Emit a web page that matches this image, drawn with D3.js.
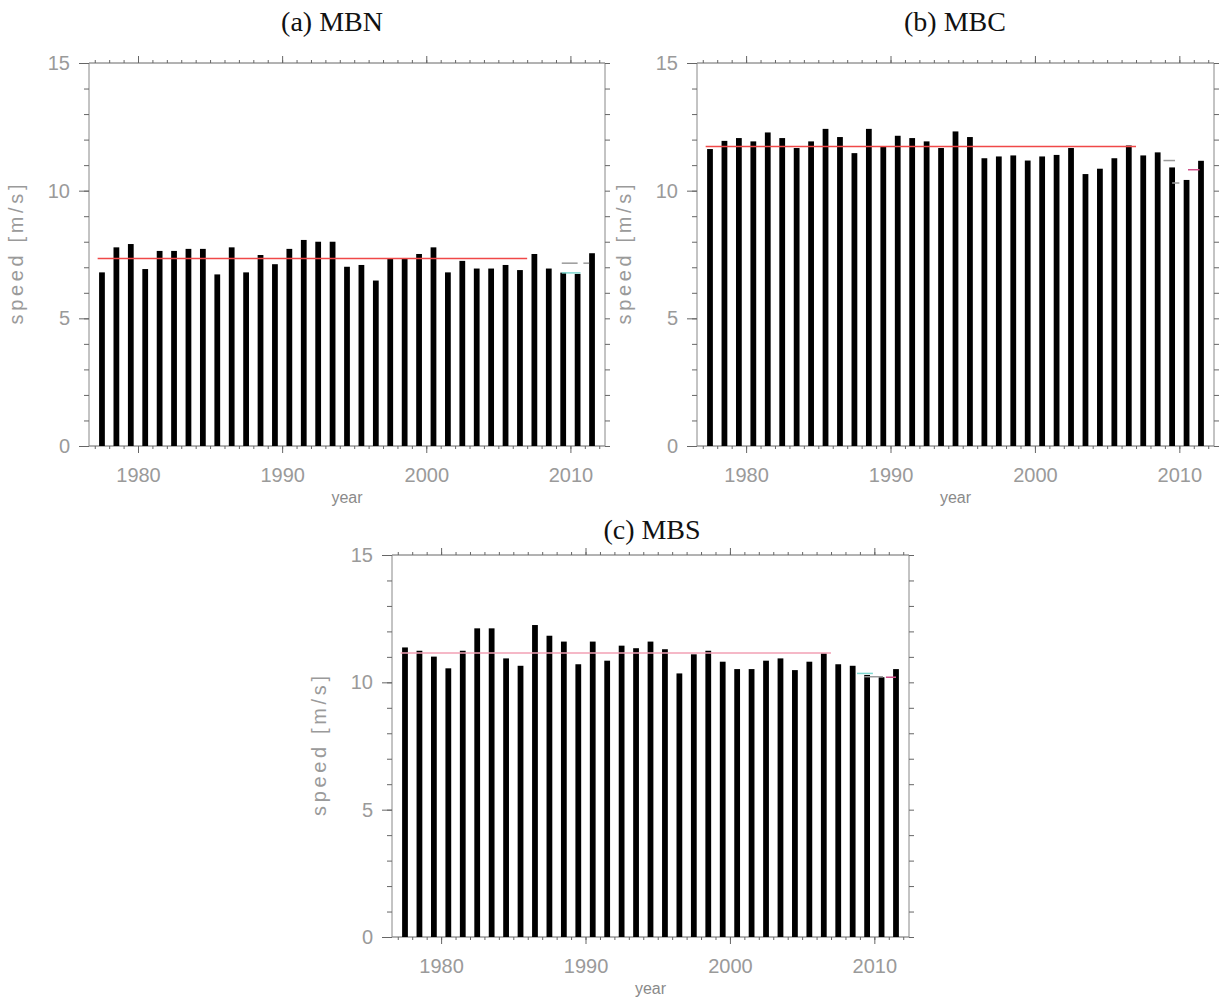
<!DOCTYPE html>
<html>
<head>
<meta charset="utf-8">
<script src="https://cdn.jsdelivr.net/npm/d3@7"></script>
<style>
  body { margin: 0; background: #fff; }
  svg text { font-family: "Liberation Sans", Arial, sans-serif; }
  svg text.panel-title { font-family: "Liberation Serif", "Times New Roman", serif; }
</style>
</head>
<body>
<svg id="chart" width="1226" height="1007"></svg>
<script>
// Annual mean wind speed (m/s), one value per year 1977-2011
const years = d3.range(1977, 2012);
const speedMBN = [6.80, 7.78, 7.91, 6.93, 7.64, 7.64, 7.72, 7.72, 6.72, 7.78,
                  6.80, 7.48, 7.12, 7.72, 8.07, 8.00, 8.00, 7.02, 7.09, 6.48,
                  7.35, 7.35, 7.52, 7.78, 6.80, 7.25, 6.95, 6.95, 7.09, 6.89,
                  7.52, 6.95, 6.79, 6.74, 7.55];
const speedMBC = [11.63, 11.95, 12.06, 11.93, 12.28, 12.06, 11.67, 11.93, 12.42, 12.10,
                  11.47, 12.42, 11.73, 12.15, 12.06, 11.93, 11.67, 12.32, 12.10, 11.27,
                  11.34, 11.38, 11.18, 11.34, 11.40, 11.67, 10.65, 10.86, 11.27, 11.77,
                  11.38, 11.50, 10.91, 10.42, 11.17];
const speedMBS = [11.37, 11.24, 11.01, 10.55, 11.24, 12.12, 12.12, 10.94, 10.65, 12.25,
                  11.83, 11.60, 10.71, 11.60, 10.85, 11.44, 11.34, 11.60, 11.30, 10.35,
                  11.10, 11.24, 10.81, 10.52, 10.52, 10.85, 10.94, 10.48, 10.81, 11.14,
                  10.71, 10.65, 10.29, 10.20, 10.52];

// Reference period for the long-term mean line
const baseFrom = 1977, baseTo = 2006;

// Short recent-period mean segments drawn near the end of each record
const recentMBN = [
  { from: 2009.4, to: 2010.5, value: 7.16, kind: "grey" },
  { from: 2010.9, to: 2011.3, value: 7.16, kind: "grey" },
  { from: 2009.4, to: 2010.7, value: 6.78, kind: "cyan" }
];
const recentMBC = [
  { from: 2008.9, to: 2009.7, value: 11.18, kind: "grey" },
  { from: 2009.5, to: 2010.0, value: 10.30, kind: "grey" },
  { from: 2010.6, to: 2011.4, value: 10.82, kind: "magenta" }
];
const recentMBS = [
  { from: 2008.8, to: 2009.9, value: 10.35, kind: "cyan" },
  { from: 2009.3, to: 2010.6, value: 10.22, kind: "grey" },
  { from: 2010.8, to: 2011.5, value: 10.20, kind: "magenta" }
];

const yTicks = [0, 5, 10, 15];
const xTicks = [1980, 1990, 2000, 2010];
const panelTitles = ["(a) MBN", "(b) MBC", "(c) MBS"];

const segColors = { grey: "#9a9a9a", cyan: "#7fd8d0", magenta: "#d0508a" };

const panels = [
  { title: panelTitles[0], values: speedMBN, recent: recentMBN, meanColor: "#f04848",
    left: 89, top: 63, width: 516, height: 383, titleX: 332, titleY: 31 },
  { title: panelTitles[1], values: speedMBC, recent: recentMBC, meanColor: "#f04848",
    left: 697, top: 63, width: 517, height: 383, titleX: 955, titleY: 31 },
  { title: panelTitles[2], values: speedMBS, recent: recentMBS, meanColor: "#f2a0b4",
    left: 392, top: 555, width: 517, height: 382, titleX: 652, titleY: 539 }
];

const svg = d3.select("#chart");

panels.forEach(p => {
  const g = svg.append("g").attr("transform", `translate(${p.left},${p.top})`);
  const x = d3.scaleLinear().domain([1976.6, 2012.4]).range([0, p.width]);
  const y = d3.scaleLinear().domain([0, 15]).range([p.height, 0]);

  const axisColor = "#666";
  const labelColor = "#9a9a9a";

  // Frame
  g.append("line").attr("x1", 0).attr("x2", p.width).attr("y1", 0).attr("y2", 0)
    .attr("stroke", axisColor);
  g.append("line").attr("x1", 0).attr("x2", p.width).attr("y1", p.height).attr("y2", p.height)
    .attr("stroke", axisColor);
  g.append("line").attr("x1", 0).attr("x2", 0).attr("y1", 0).attr("y2", p.height)
    .attr("stroke", "#888");
  g.append("line").attr("x1", p.width).attr("x2", p.width).attr("y1", 0).attr("y2", p.height)
    .attr("stroke", "#888");

  // Y axes: major ticks every 5, minor every 1, ticks pointing out
  const yMinor = d3.range(0, 16);
  const yLeft = d3.axisLeft(y).tickValues(yTicks).tickSize(10).tickFormat(d3.format("d")).tickPadding(9);
  const yLeftG = g.append("g").call(yLeft);
  yLeftG.select(".domain").remove();
  yLeftG.selectAll("line").attr("stroke", axisColor);
  yLeftG.selectAll("text").attr("fill", labelColor).attr("font-size", 20);
  const yLeftMinor = g.append("g").call(d3.axisLeft(y).tickValues(yMinor).tickSize(5).tickFormat(""));
  yLeftMinor.select(".domain").remove();
  yLeftMinor.selectAll("line").attr("stroke", axisColor);

  const yRight = g.append("g").attr("transform", `translate(${p.width},0)`)
    .call(d3.axisRight(y).tickValues(yMinor).tickSize(5).tickFormat(""));
  yRight.select(".domain").remove();
  yRight.selectAll("line").attr("stroke", axisColor);

  // X axes: major ticks every decade, minor every year
  const xMinor = d3.range(1977, 2013);
  const xBottom = g.append("g").attr("transform", `translate(0,${p.height})`)
    .call(d3.axisBottom(x).tickValues(xTicks).tickSize(7).tickFormat(d3.format("d")).tickPadding(15));
  xBottom.select(".domain").remove();
  xBottom.selectAll("line").attr("stroke", axisColor);
  xBottom.selectAll("text").attr("fill", labelColor).attr("font-size", 20);
  const xBottomMinor = g.append("g").attr("transform", `translate(0,${p.height})`)
    .call(d3.axisBottom(x).tickValues(xMinor).tickSize(3).tickFormat(""));
  xBottomMinor.select(".domain").remove();
  xBottomMinor.selectAll("line").attr("stroke", axisColor);

  const xTop = g.append("g").call(d3.axisTop(x).tickValues(xTicks).tickSize(7).tickFormat(""));
  xTop.select(".domain").remove();
  xTop.selectAll("line").attr("stroke", axisColor);
  const xTopMinor = g.append("g").call(d3.axisTop(x).tickValues(xMinor).tickSize(3).tickFormat(""));
  xTopMinor.select(".domain").remove();
  xTopMinor.selectAll("line").attr("stroke", axisColor);

  // Bars: each year's mean centred mid-year
  const barHalf = 0.2;
  g.append("g").selectAll("rect")
    .data(years.map((yr, i) => ({ yr, v: p.values[i] })))
    .join("rect")
    .attr("x", d => x(d.yr + 0.5 - barHalf))
    .attr("width", d => x(d.yr + 0.5 + barHalf) - x(d.yr + 0.5 - barHalf))
    .attr("y", d => y(d.v))
    .attr("height", d => y(0) - y(d.v))
    .attr("fill", "#000");

  // Long-term mean over the reference period
  const baseVals = p.values.filter((v, i) => years[i] >= baseFrom && years[i] <= baseTo);
  const mean = d3.mean(baseVals);
  g.append("line")
    .attr("x1", x(baseFrom + 0.2)).attr("x2", x(baseTo + 1))
    .attr("y1", y(mean)).attr("y2", y(mean))
    .attr("stroke", p.meanColor).attr("stroke-width", 1.5);

  // Recent-period means
  g.append("g").selectAll("line")
    .data(p.recent)
    .join("line")
    .attr("x1", d => x(d.from)).attr("x2", d => x(d.to))
    .attr("y1", d => y(d.value)).attr("y2", d => y(d.value))
    .attr("stroke", d => segColors[d.kind])
    .attr("stroke-width", 1.5);

  // Axis titles
  g.append("text")
    .attr("transform", `translate(${-66},${p.height / 2}) rotate(-90)`)
    .attr("text-anchor", "middle")
    .attr("fill", labelColor)
    .attr("font-size", 20)
    .attr("textLength", 140).attr("lengthAdjust", "spacing")
    .text("speed [m/s]");
  g.append("text")
    .attr("x", p.width / 2).attr("y", p.height + 57)
    .attr("text-anchor", "middle")
    .attr("fill", "#8a8a8a")
    .attr("font-size", 16)
    .text("year");

  // Panel title
  svg.append("text")
    .attr("class", "panel-title")
    .attr("x", p.titleX).attr("y", p.titleY)
    .attr("text-anchor", "middle")
    .attr("font-size", 28)
    .attr("fill", "#111")
    .text(p.title);
});
</script>
</body>
</html>
